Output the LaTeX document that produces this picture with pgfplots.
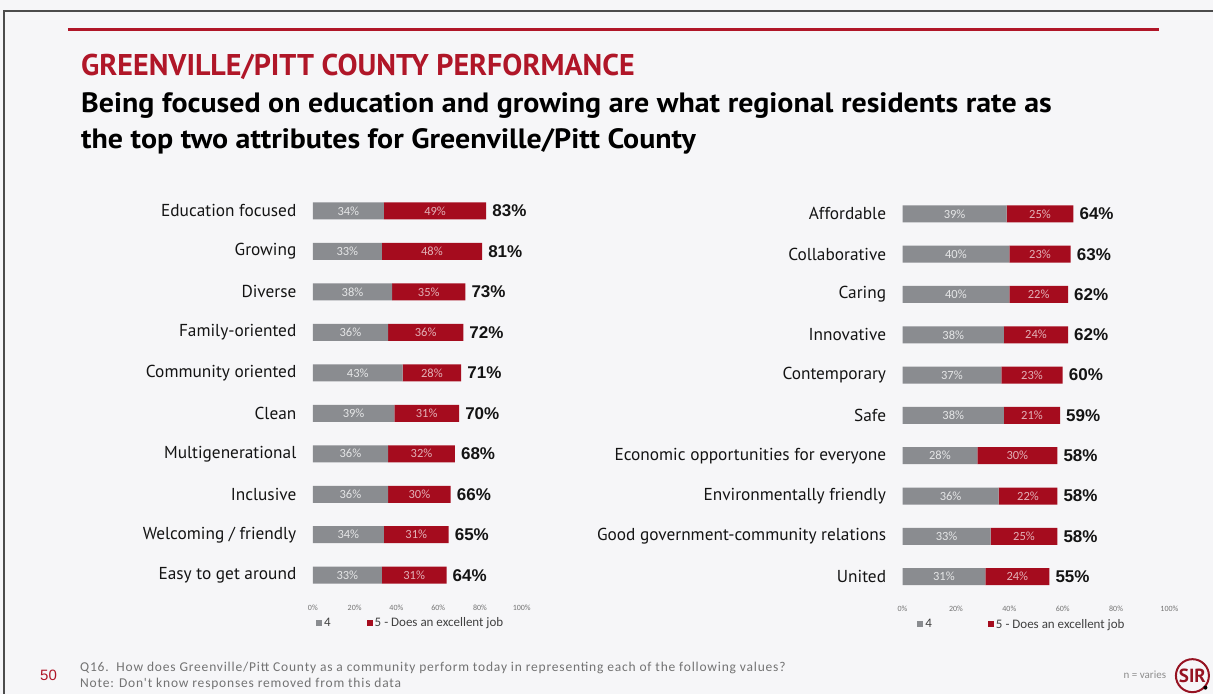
\documentclass[border=0pt]{standalone}
\usepackage{pgfplots}
\pgfplotsset{compat=1.18}
\usepackage{pgfplotstable}
\usepackage{fontspec}
\setmainfont{PT Sans}
\newfontfamily\titlefont{PT Sans}
\newfontfamily\subfont[FakeStretch=1.07]{PT Sans}
\newfontfamily\carlito{Carlito}
\newfontfamily\footfont[LetterSpace=6]{Carlito}
\newfontfamily\arialf{Liberation Sans}

\definecolor{barGray}{RGB}{138,140,144}
\definecolor{barRed}{RGB}{165,12,30}
\definecolor{titleRed}{RGB}{176,22,40}
\definecolor{bgc}{RGB}{246,246,248}
\definecolor{footGray}{RGB}{115,115,115}

\pgfplotstableread{
idx a b tot
0 34 49 83
1 33 48 81
2 38 35 73
3 36 36 72
4 43 28 71
5 39 31 70
6 36 32 68
7 36 30 66
8 34 31 65
9 33 31 64
}\leftdata

\pgfplotstableread{
idx a b tot
0 39 25 64
1 40 23 63
2 40 22 62
3 38 24 62
4 37 23 60
5 38 21 59
6 28 30 58
7 36 22 58
8 33 25 58
9 31 24 55
}\rightdata

\pgfplotsset{
  frame/.style={
    scale only axis, clip=false,
    xmin=0, xmax=100, ymin=-0.5, ymax=9.5, y dir=reverse,
  },
  surveybars/.style={
    frame,
    xbar stacked, bar width=17pt,
    axis line style={draw=none},
    major tick length=0pt,
    xtick={0,20,...,100},
    /pgf/number format/assume math mode=true,
    xticklabel={\pgfmathprintnumber{\tick}\%},
    xticklabel style={font=\carlito\fontsize{8}{9}\selectfont, text=black!55, yshift=-6pt},
    ytick={0,...,9},
    yticklabel style={font=\fontsize{17.3}{18}\selectfont, text=black!92, xshift=-13pt},
    legend image code/.code={\fill[##1] (0pt,-3pt) rectangle (6pt,3pt);},
    legend style={draw=none, fill=none, font=\carlito\fontsize{13}{14}\selectfont, text=black!75,
      legend columns=2, inner sep=0pt, anchor=north west},
  },
  seglabel/.style={
    point meta=explicit symbolic,
    nodes near coords={\pgfplotspointmeta\%},
    nodes near coords align={center},
    every node near coord/.style={anchor=center, inner sep=0pt,
      font=\carlito\fontsize{12.5}{13}\selectfont, text=#1},
  },
  totaxis/.style={
    frame, hide axis, xbar, bar width=0pt,
  },
  totlabel/.style={
    draw=none, fill=none,
    point meta=explicit symbolic,
    nodes near coords={\pgfplotspointmeta\%},
    every node near coord/.style={anchor=west, inner sep=0pt, xshift=6pt,
      font=\arialf\bfseries\fontsize{17}{18}\selectfont, text=black!92},
  },
}

\begin{document}
\begin{tikzpicture}[x=1pt,y=1pt]
\fill[bgc] (0,0) rectangle (1214,694);
\draw[black!70, line width=1.2pt] (4,0) -- (4,683) -- (1214,683);
\draw[titleRed, line width=3pt] (68,664.5) -- (1160,664.5);

\node[anchor=base west, inner sep=0pt, text=titleRed, font=\titlefont\bfseries\fontsize{30}{32}\selectfont] at (81,618) {GREENVILLE/PITT COUNTY PERFORMANCE};
\node[anchor=base west, inner sep=0pt, text=black, font=\subfont\bfseries\fontsize{28}{30}\selectfont] at (81,581) {Being focused on education and growing are what regional residents rate as};
\node[anchor=base west, inner sep=0pt, text=black, font=\subfont\bfseries\fontsize{28}{30}\selectfont] at (81,545) {the top two attributes for Greenville/Pitt County};

% left chart
\begin{axis}[surveybars,
  at={(313pt,503.25pt)}, anchor=north west,
  width=209pt, height=405pt,
  yticklabels={Education focused, Growing, Diverse, Family-oriented, Community oriented, Clean, Multigenerational, Inclusive, Welcoming / friendly, Easy to get around},
  legend style={at={(0.015,0)}, yshift=-20pt, /tikz/every even column/.append style={column sep=34pt}},
]
\addplot[fill=barGray, draw=none, seglabel={white!78!barGray}]
  table[x=a, y=idx, meta=a] {\leftdata};
\addlegendentry{4}
\addplot[fill=barRed, draw=none, seglabel={white!68!barRed}]
  table[x=b, y=idx, meta=b] {\leftdata};
\addlegendentry{5 - Does an excellent job}
\end{axis}
\begin{axis}[totaxis, at={(313pt,503.25pt)}, anchor=north west, width=209pt, height=405pt]
\addplot[totlabel] table[x=tot, y=idx, meta=tot] {\leftdata};
\end{axis}

% right chart
\begin{axis}[surveybars,
  at={(903pt,500.2pt)}, anchor=north west,
  width=267pt, height=403.3pt,
  yticklabels={Affordable, Collaborative, Caring, Innovative, Contemporary, Safe, Economic opportunities for everyone, Environmentally friendly, Good government-community relations, United},
  legend style={at={(0.055,0)}, yshift=-20pt, /tikz/every even column/.append style={column sep=54pt}},
]
\addplot[fill=barGray, draw=none, seglabel={white!78!barGray}]
  table[x=a, y=idx, meta=a] {\rightdata};
\addlegendentry{4}
\addplot[fill=barRed, draw=none, seglabel={white!68!barRed}]
  table[x=b, y=idx, meta=b] {\rightdata};
\addlegendentry{5 - Does an excellent job}
\end{axis}
\begin{axis}[totaxis, at={(903pt,500.2pt)}, anchor=north west, width=267pt, height=403.3pt]
\addplot[totlabel] table[x=tot, y=idx, meta=tot] {\rightdata};
\end{axis}

% footer
\node[anchor=west, inner sep=0pt, text=titleRed, font=\arialf\fontsize{15}{16}\selectfont] at (40,18) {50};
\node[anchor=west, inner sep=0pt, text=footGray, font=\footfont\fontsize{13.5}{14}\selectfont] at (80,26) {Q16.\ \ How does Greenville/Pitt County as a community perform today in representing each of the following values?};
\node[anchor=west, inner sep=0pt, text=footGray, font=\footfont\fontsize{13.5}{14}\selectfont] at (80,10) {Note: Don't know responses removed from this data};
\node[anchor=west, inner sep=0pt, text=black!45, font=\carlito\fontsize{11}{12}\selectfont] at (1124,19) {n = varies};
\draw[titleRed!85!black, line width=2pt] (1193,18) circle (16.5);
\node[inner sep=0pt, text=titleRed!85!black, font=\titlefont\bfseries\fontsize{19}{20}\selectfont] at (1193,18) {SIR};
\fill[black] (1206,6) circle (2);
\end{tikzpicture}
\end{document}
